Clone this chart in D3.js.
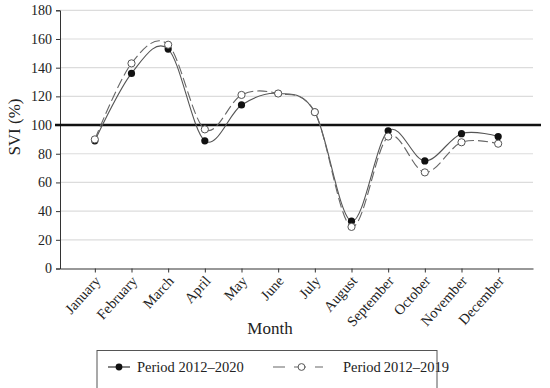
<!DOCTYPE html>
<html>
<head>
    <title>SVI by month</title>
    <script src="https://d3js.org/d3.v7.min.js"></script>
    <style>
        html, body {
            margin: 0;
            padding: 0;
            background: white;
        }
        svg text {
            font-family: "Liberation Serif", "DejaVu Serif", serif;
            fill: #222;
        }
    </style>
</head>
<body>
<div id="chart"></div>
<script>
    // chart data
    const months = ['January', 'February', 'March', 'April', 'May', 'June', 'July',
        'August', 'September', 'October', 'November', 'December'];
    const svi2020 = [89, 136, 153, 89, 114, 122, 109, 33, 96, 75, 94, 92];
    const svi2019 = [90, 143, 156, 97, 121, 122, 109, 29, 92, 67, 88, 87];
    const yTicks = [0, 20, 40, 60, 80, 100, 120, 140, 160, 180];
    const seriesNames = ['Period 2012\u20132020', 'Period\u20092012\u20132019'];

    const width = 550;
    const height = 388;
    const plotLeft = 60, plotRight = 533, plotTop = 10.3, plotBottom = 268.5;

    const svg = d3.select('#chart')
        .append('svg')
        .attr('width', width)
        .attr('height', height);

    const x = d3.scalePoint()
        .domain(months)
        .range([plotLeft, plotRight])
        .padding(0.95);

    const y = d3.scaleLinear()
        .domain([0, 180])
        .range([plotBottom, plotTop]);

    // grid lines
    svg.append('g')
        .selectAll('line')
        .data(yTicks.filter(d => d > 0))
        .enter()
        .append('line')
        .attr('x1', plotLeft)
        .attr('x2', plotRight)
        .attr('y1', d => y(d))
        .attr('y2', d => y(d))
        .attr('stroke', '#dcdcdc')
        .attr('stroke-width', 1.2);

    // y axis
    const yAxis = svg.append('g')
        .attr('transform', `translate(${plotLeft},0)`)
        .call(d3.axisLeft(y).tickValues(yTicks).tickSize(4).tickPadding(4));
    yAxis.select('.domain').attr('stroke', '#333').attr('stroke-width', 1);
    yAxis.selectAll('.tick line').attr('stroke', '#333');
    yAxis.selectAll('text').style('font-size', '14px').attr('fill', '#222');

    // x axis
    const xAxis = svg.append('g')
        .attr('transform', `translate(0,${plotBottom})`)
        .call(d3.axisBottom(x).tickSize(4).tickSizeOuter(0));
    xAxis.select('.domain').attr('stroke', '#333').attr('stroke-width', 1.2);
    xAxis.selectAll('.tick line').attr('stroke', '#333');
    xAxis.selectAll('text')
        .attr('text-anchor', 'end')
        .attr('dy', null)
        .attr('y', 0)
        .attr('transform', 'translate(6,13) rotate(-48)')
        .style('font-size', '14.5px')
        .attr('fill', '#222');

    // 100% reference line
    svg.append('line')
        .attr('x1', plotLeft - 5)
        .attr('x2', 541)
        .attr('y1', y(100))
        .attr('y2', y(100))
        .attr('stroke', '#111')
        .attr('stroke-width', 2.4);

    // axis titles
    svg.append('text')
        .attr('transform', `translate(20,${y(100) + 2}) rotate(-90)`)
        .attr('text-anchor', 'middle')
        .style('font-size', '17px')
        .text('SVI (%)');

    svg.append('text')
        .attr('x', 270)
        .attr('y', 334)
        .attr('text-anchor', 'middle')
        .style('font-size', '17px')
        .text('Month');

    // lines
    const line = d3.line()
        .x((d, i) => x(months[i]))
        .y(d => y(d))
        .curve(d3.curveCardinal.tension(0));

    svg.append('path')
        .datum(svi2020)
        .attr('d', line)
        .attr('fill', 'none')
        .attr('stroke', '#555')
        .attr('stroke-width', 1.1);

    svg.append('path')
        .datum(svi2019)
        .attr('d', line)
        .attr('fill', 'none')
        .attr('stroke', '#666')
        .attr('stroke-width', 1.1)
        .attr('stroke-dasharray', '10,4');

    // markers
    svg.append('g')
        .selectAll('circle')
        .data(svi2020)
        .enter()
        .append('circle')
        .attr('cx', (d, i) => x(months[i]))
        .attr('cy', d => y(d))
        .attr('r', 3.6)
        .attr('fill', '#111');

    svg.append('g')
        .selectAll('circle')
        .data(svi2019)
        .enter()
        .append('circle')
        .attr('cx', (d, i) => x(months[i]))
        .attr('cy', d => y(d))
        .attr('r', 3.6)
        .attr('fill', 'white')
        .attr('stroke', '#555')
        .attr('stroke-width', 1);

    // legend
    const legend = svg.append('g');
    legend.append('rect')
        .attr('x', 97)
        .attr('y', 350.5)
        .attr('width', 340)
        .attr('height', 40)
        .attr('fill', 'white')
        .attr('stroke', '#555')
        .attr('stroke-width', 1);

    const ly = 367;
    legend.append('line')
        .attr('x1', 108).attr('x2', 130)
        .attr('y1', ly).attr('y2', ly)
        .attr('stroke', '#333').attr('stroke-width', 1.2);
    legend.append('circle')
        .attr('cx', 119).attr('cy', ly).attr('r', 3.4)
        .attr('fill', '#111');
    legend.append('text')
        .attr('x', 137).attr('y', ly + 5)
        .style('font-size', '14.5px')
        .text(seriesNames[0]);

    legend.append('line')
        .attr('x1', 273).attr('x2', 323)
        .attr('y1', ly).attr('y2', ly)
        .attr('stroke', '#666').attr('stroke-width', 1.1)
        .attr('stroke-dasharray', '12,9');
    legend.append('circle')
        .attr('cx', 301.5).attr('cy', ly).attr('r', 3.4)
        .attr('fill', 'white').attr('stroke', '#555');
    legend.append('text')
        .attr('x', 343).attr('y', ly + 5)
        .style('font-size', '14.5px')
        .text(seriesNames[1]);
</script>
</body>
</html>
